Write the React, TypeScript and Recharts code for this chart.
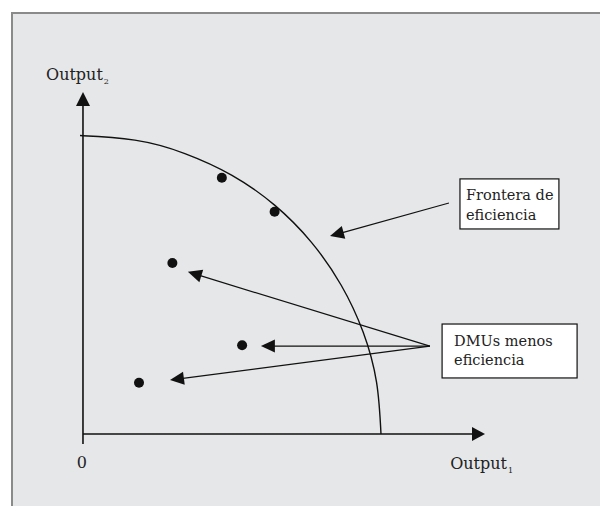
import React from 'react';
import {
  ComposedChart,
  XAxis,
  YAxis,
  Line,
  Scatter,
  ReferenceLine,
  ReferenceArea,
  ReferenceDot,
} from 'recharts';

// Frontier of efficiency
const frontierX = [-1, 0, 17.4, 34.2, 50, 64.3, 76.6, 86.6, 94, 98.5, 100];
const frontierY = [100.1, 100.1, 98.6, 94.1, 86.8, 76.8, 64.4, 50, 34.2, 17.4, 0];

// DMUs
const dmuX = [46.6, 64.3, 30.0, 53.4, 18.8];
const dmuY = [86.0, 74.6, 57.4, 29.8, 17.2];

// Axis extents
const xAxisEnd = 134.9;
const yAxisStart = -3.4;
const yAxisEnd = 114.8;

// Annotation arrows: [fromX, fromY, toX, toY]
const frontierArrow = [122.8, 77.5, 82.9, 66.4];
const dmuArrowFrom = [116.4, 29.5];
const dmuArrowToX = [35.2, 59.7, 29.2];
const dmuArrowToY = [54.4, 29.5, 18.1];

// Annotation boxes
const box1Lines = ['Frontera de', 'eficiencia'];
const box1 = { x1: 126.5, x2: 159.7, y1: 68.8, y2: 85.6 };
const box2Lines = ['DMUs menos', 'eficiencia'];
const box2 = { x1: 120.5, x2: 165.8, y1: 18.8, y2: 36.9 };

// Axis labels
const yLabelMain = 'Output';
const yLabelSub = '2';
const xLabelMain = 'Output';
const xLabelSub = '1';
const originLabel = '0';

const frontierData = frontierX.map((x, i) => ({ x, y: frontierY[i] }));
const dmuData = dmuX.map((x, i) => ({ x, y: dmuY[i] }));

const FONT = "'DejaVu Serif', serif";
const INK = '#111';

const arrowShape = (len: number, half: number, sw: number) => (props: any) => {
  const { x1, y1, x2, y2 } = props;
  const dx = x2 - x1;
  const dy = y2 - y1;
  const d = Math.sqrt(dx * dx + dy * dy) || 1;
  const ux = dx / d;
  const uy = dy / d;
  const bx = x2 - ux * len;
  const by = y2 - uy * len;
  const px = -uy * half;
  const py = ux * half;
  return (
    <g>
      <line x1={x1} y1={y1} x2={bx + ux * 1} y2={by + uy * 1} stroke={INK} strokeWidth={sw} />
      <polygon
        points={`${x2},${y2} ${bx + px},${by + py} ${bx - px},${by - py}`}
        fill={INK}
      />
    </g>
  );
};

const boxShape = (lines: string[], padX: number, firstBase: number, lineH: number) => (props: any) => {
  const { x, y, width, height } = props;
  return (
    <g>
      <rect x={x} y={y} width={width} height={height} fill="#ffffff" stroke={INK} strokeWidth={1.2} />
      {lines.map((t, i) => (
        <text
          key={i}
          x={x + padX}
          y={y + firstBase + i * lineH}
          fontFamily={FONT}
          fontSize={14.5}
          fill="#222"
        >
          {t}
        </text>
      ))}
    </g>
  );
};

const labelShape = (main: string, sub: string, anchor: 'start' | 'middle') => (props: any) => {
  const { cx, cy } = props;
  return (
    <text x={cx} y={cy} fontFamily={FONT} fontSize={16} fill="#222" textAnchor={anchor}>
      {main}
      {sub ? (
        <tspan fontSize={8} dy={4} dx={1}>
          {sub}
        </tspan>
      ) : null}
    </text>
  );
};

const Dot = (props: any) => <circle cx={props.cx} cy={props.cy} r={5} fill={INK} />;

export default function App() {
  return (
    <div style={{ position: 'absolute', left: 0, top: 0, width: 600, height: 506 }}>
      <div
        style={{
          position: 'absolute',
          left: 11,
          top: 12,
          width: 589,
          height: 494,
          boxSizing: 'border-box',
          background: '#e6e7e9',
          borderTop: '2px solid #8a8a8a',
          borderLeft: '2px solid #8a8a8a',
        }}
      />
      <div style={{ position: 'absolute', left: 0, top: 0 }}>
        <ComposedChart
          width={600}
          height={506}
          margin={{ top: 91.3, right: 114.7, bottom: 61.6, left: 80 }}
        >
          <XAxis type="number" dataKey="x" domain={[-1, 135]} hide allowDataOverflow />
          <YAxis type="number" dataKey="y" domain={[-3.5, 115]} hide allowDataOverflow />

          <ReferenceLine
            segment={[{ x: 0, y: yAxisStart }, { x: 0, y: yAxisEnd }]}
            ifOverflow="visible"
            shape={arrowShape(14, 7, 1.6)}
          />
          <ReferenceLine
            segment={[{ x: 0, y: 0 }, { x: xAxisEnd, y: 0 }]}
            ifOverflow="visible"
            shape={arrowShape(13, 7, 1.6)}
          />

          <Line
            data={frontierData}
            dataKey="y"
            type="natural"
            stroke={INK}
            strokeWidth={1.4}
            dot={false}
            activeDot={false}
            isAnimationActive={false}
          />
          <Scatter data={dmuData} dataKey="y" shape={Dot} isAnimationActive={false} />

          <ReferenceLine
            segment={[
              { x: frontierArrow[0], y: frontierArrow[1] },
              { x: frontierArrow[2], y: frontierArrow[3] },
            ]}
            ifOverflow="visible"
            shape={arrowShape(14, 6.5, 1.2)}
          />
          {dmuArrowToX.map((tx, i) => (
            <ReferenceLine
              key={i}
              segment={[
                { x: dmuArrowFrom[0], y: dmuArrowFrom[1] },
                { x: tx, y: dmuArrowToY[i] },
              ]}
              ifOverflow="visible"
              shape={arrowShape(14, 6.5, 1.2)}
            />
          ))}

          <ReferenceArea
            x1={box1.x1}
            x2={box1.x2}
            y1={box1.y1}
            y2={box1.y2}
            ifOverflow="visible"
            shape={boxShape(box1Lines, 6, 21, 20)}
          />
          <ReferenceArea
            x1={box2.x1}
            x2={box2.x2}
            y1={box2.y1}
            y2={box2.y2}
            ifOverflow="visible"
            shape={boxShape(box2Lines, 12, 22, 19)}
          />

          <ReferenceDot
            x={-12.4}
            y={118.8}
            r={0}
            ifOverflow="visible"
            shape={labelShape(yLabelMain, yLabelSub, 'start')}
          />
          <ReferenceDot
            x={-0.4}
            y={-11.4}
            r={0}
            ifOverflow="visible"
            shape={labelShape(originLabel, '', 'middle')}
          />
          <ReferenceDot
            x={123.2}
            y={-11.7}
            r={0}
            ifOverflow="visible"
            shape={labelShape(xLabelMain, xLabelSub, 'start')}
          />
        </ComposedChart>
      </div>
    </div>
  );
}
